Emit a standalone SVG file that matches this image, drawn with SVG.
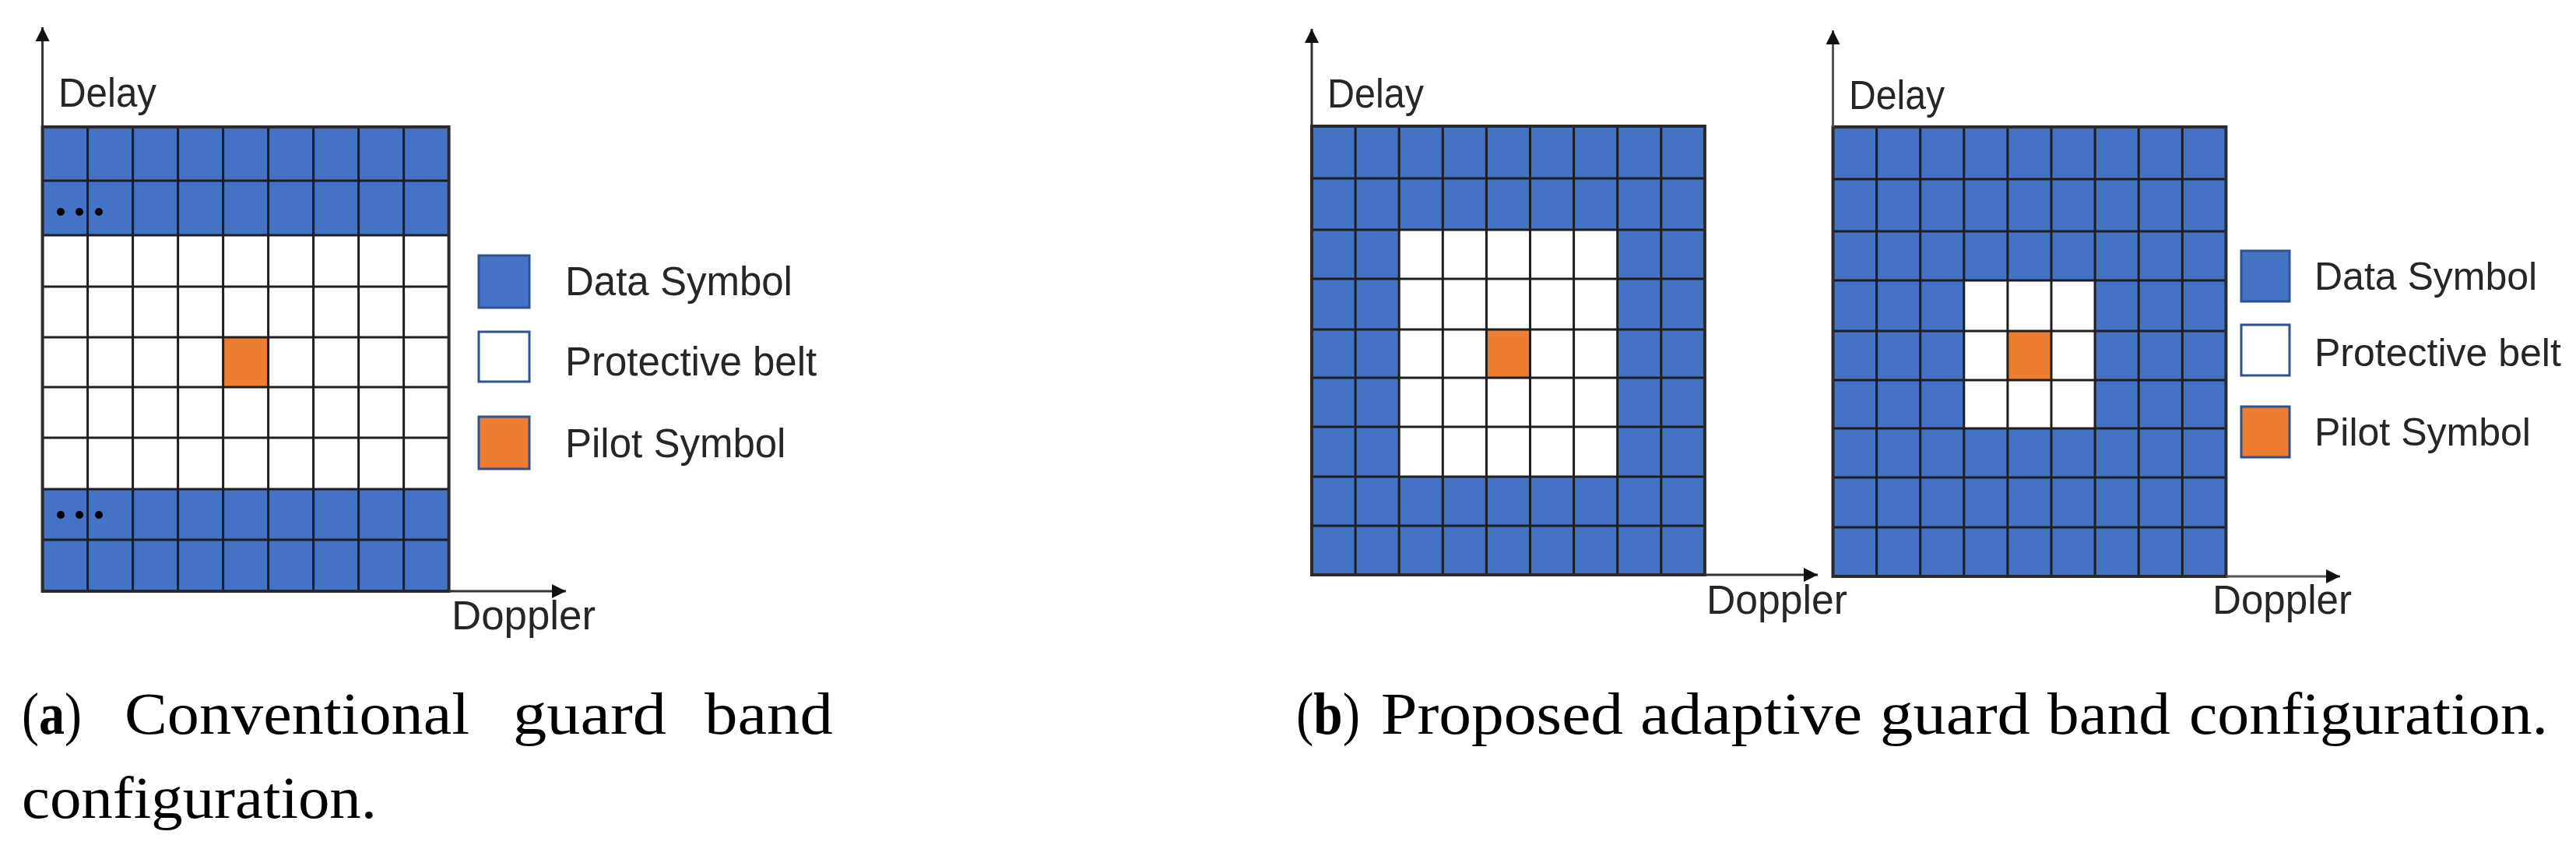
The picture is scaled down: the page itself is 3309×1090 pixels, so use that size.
<svg xmlns="http://www.w3.org/2000/svg" width="3309" height="1090" viewBox="0 0 3309 1090">
<style>
.blue{fill:#4472C4}
.white{fill:#FFFFFF}
.orange{fill:#ED7D31}
.grid{fill:none;stroke:#1E1E1E;stroke-width:3}
.border{fill:none;stroke:#2A2A2A;stroke-width:4}
.axis{stroke:#333;stroke-width:3;fill:none}
.lbl{font-family:"Liberation Sans",Arial,sans-serif;font-size:51px;fill:#262626}
.leg{stroke:#2F528F;stroke-width:3}
.cap{font-family:"Liberation Serif","Times New Roman",serif;font-size:77px;fill:#000}
</style>
<defs>
<marker id="ah" markerWidth="20" markerHeight="20" refX="18" refY="9" orient="auto" markerUnits="userSpaceOnUse">
<path d="M0,0 L18,9 L0,18 z" fill="#111"/>
</marker>
</defs>
<rect width="3309" height="1090" fill="#FFFFFF"/>

<!-- Panel (a) -->
<g id="grid-a">
<rect class="blue" x="54.6" y="163" width="522" height="596"/>
<rect class="white" x="54.6" y="302" width="522" height="326"/>
<rect class="orange" x="286.6" y="433" width="58" height="64"/>
<path class="grid" d="M112.6,163V759M170.6,163V759M228.6,163V759M286.6,163V759M344.6,163V759M402.6,163V759M460.6,163V759M518.6,163V759M54.6,232H576.6M54.6,302H576.6M54.6,368H576.6M54.6,433H576.6M54.6,497H576.6M54.6,562H576.6M54.6,628H576.6M54.6,693H576.6"/>
<rect class="border" x="54.6" y="163" width="522" height="596"/>
<circle cx="78" cy="272" r="5" fill="#000"/>
<circle cx="102" cy="272" r="5" fill="#000"/>
<circle cx="127" cy="272" r="5" fill="#000"/>
<circle cx="78" cy="661" r="5" fill="#000"/>
<circle cx="102" cy="661" r="5" fill="#000"/>
<circle cx="127" cy="661" r="5" fill="#000"/>
</g>
<g id="axes-a">
<line class="axis" x1="54.6" y1="163" x2="54.6" y2="35" marker-end="url(#ah)"/>
<line class="axis" x1="576.6" y1="759" x2="727" y2="759" marker-end="url(#ah)"/>
<text class="lbl" x="75" y="137" textLength="126" lengthAdjust="spacingAndGlyphs">Delay</text>
<text class="lbl" x="580" y="808" textLength="185" lengthAdjust="spacingAndGlyphs">Doppler</text>
</g>
<g id="legend-a">
<rect class="blue leg" x="615" y="328" width="65" height="67"/>
<rect class="white leg" x="615" y="426" width="65" height="64"/>
<rect class="orange leg" x="615" y="535" width="65" height="67"/>
<text class="lbl" x="726" y="379">Data Symbol</text>
<text class="lbl" x="726" y="482">Protective belt</text>
<text class="lbl" x="726" y="587">Pilot Symbol</text>
</g>

<!-- Panel (b) left grid -->
<g id="grid-b1">
<rect class="blue" x="1685" y="162" width="504.9" height="576"/>
<rect class="white" x="1797.2" y="295" width="280.5" height="317"/>
<rect class="orange" x="1909.4" y="423" width="56.1" height="62"/>
<path class="grid" d="M1741.1,162V738M1797.2,162V738M1853.3,162V738M1909.4,162V738M1965.5,162V738M2021.6,162V738M2077.7,162V738M2133.8,162V738M1685,229H2189.9M1685,295H2189.9M1685,358H2189.9M1685,423H2189.9M1685,485H2189.9M1685,548H2189.9M1685,612H2189.9M1685,675H2189.9"/>
<rect class="border" x="1685" y="162" width="504.9" height="576"/>
</g>
<g id="axes-b1">
<line class="axis" x1="1685" y1="162" x2="1685" y2="37" marker-end="url(#ah)"/>
<line class="axis" x1="2189.9" y1="738" x2="2335" y2="738" marker-end="url(#ah)"/>
<text class="lbl" x="1705" y="138" textLength="124" lengthAdjust="spacingAndGlyphs">Delay</text>
<text class="lbl" x="2192" y="788" textLength="181" lengthAdjust="spacingAndGlyphs">Doppler</text>
</g>

<!-- Panel (b) right grid -->
<g id="grid-b2">
<rect class="blue" x="2354.5" y="163" width="504.9" height="577"/>
<rect class="white" x="2522.8" y="360" width="168.3" height="190"/>
<rect class="orange" x="2578.9" y="425" width="56.1" height="63"/>
<path class="grid" d="M2410.6,163V740M2466.7,163V740M2522.8,163V740M2578.9,163V740M2635,163V740M2691.1,163V740M2747.2,163V740M2803.3,163V740M2354.5,230H2859.4M2354.5,297H2859.4M2354.5,360H2859.4M2354.5,425H2859.4M2354.5,488H2859.4M2354.5,550H2859.4M2354.5,613H2859.4M2354.5,677H2859.4"/>
<rect class="border" x="2354.5" y="163" width="504.9" height="577"/>
</g>
<g id="axes-b2">
<line class="axis" x1="2354.5" y1="163" x2="2354.5" y2="39" marker-end="url(#ah)" style="stroke:#555"/>
<line class="axis" x1="2859.4" y1="740" x2="3006" y2="740" marker-end="url(#ah)" style="stroke:#555"/>
<text class="lbl" x="2375" y="140" textLength="123" lengthAdjust="spacingAndGlyphs">Delay</text>
<text class="lbl" x="2842" y="788" textLength="179" lengthAdjust="spacingAndGlyphs">Doppler</text>
</g>
<g id="legend-b">
<rect class="blue leg" x="2879" y="322" width="62" height="65"/>
<rect class="white leg" x="2879" y="417" width="62" height="65"/>
<rect class="orange leg" x="2879" y="522" width="62" height="65"/>
<text class="lbl" x="2973" y="372" style="font-size:50px">Data Symbol</text>
<text class="lbl" x="2973" y="470" style="font-size:50px">Protective belt</text>
<text class="lbl" x="2973" y="572" style="font-size:50px">Pilot Symbol</text>
</g>

<!-- Captions -->
<g id="caption-a">
<text class="cap" x="28" y="942" textLength="77" lengthAdjust="spacingAndGlyphs">(<tspan font-weight="bold">a</tspan>)</text>
<text class="cap" x="160" y="942" textLength="443" lengthAdjust="spacingAndGlyphs">Conventional</text>
<text class="cap" x="659" y="942" textLength="197" lengthAdjust="spacingAndGlyphs">guard</text>
<text class="cap" x="905" y="942" textLength="165" lengthAdjust="spacingAndGlyphs">band</text>
<text class="cap" x="28" y="1050" textLength="456" lengthAdjust="spacingAndGlyphs">configuration.</text>
</g>
<g id="caption-b">
<text class="cap" x="1665" y="942" textLength="82" lengthAdjust="spacingAndGlyphs">(<tspan font-weight="bold">b</tspan>)</text>
<text class="cap" x="1774" y="942" textLength="311" lengthAdjust="spacingAndGlyphs">Proposed</text>
<text class="cap" x="2107" y="942" textLength="285" lengthAdjust="spacingAndGlyphs">adaptive</text>
<text class="cap" x="2415" y="942" textLength="193" lengthAdjust="spacingAndGlyphs">guard</text>
<text class="cap" x="2630" y="942" textLength="158" lengthAdjust="spacingAndGlyphs">band</text>
<text class="cap" x="2812" y="942" textLength="461" lengthAdjust="spacingAndGlyphs">configuration.</text>
</g>
</svg>
